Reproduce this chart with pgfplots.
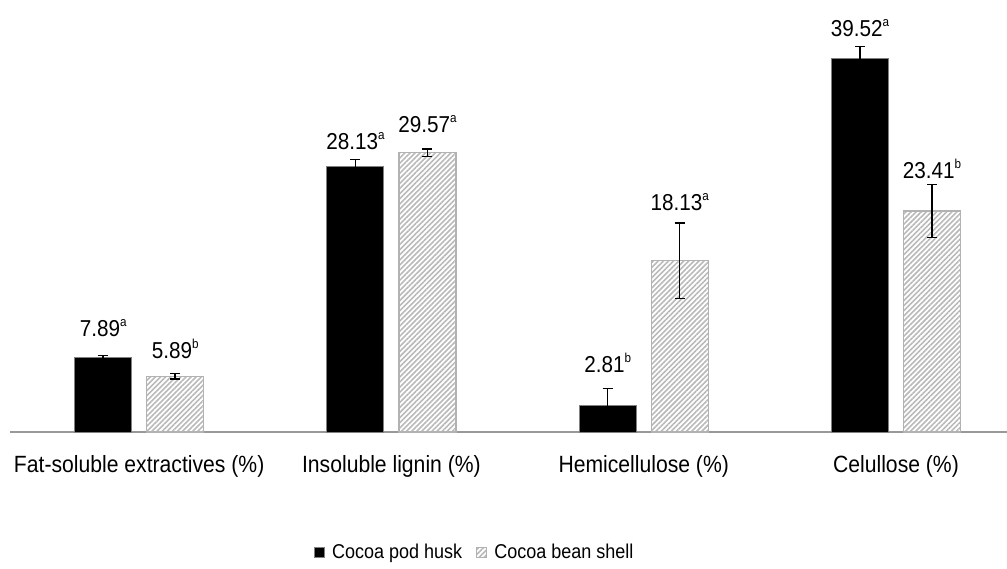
\documentclass[border=0pt]{standalone}
\usepackage{fontspec}
\setmainfont{Liberation Sans}[FakeStretch=0.9]
\usepackage{pgfplots}
\pgfplotsset{compat=1.18}
\usetikzlibrary{patterns.meta}
\newcommand{\supl}[1]{\raisebox{0.42em}{\fontsize{13}{13}\selectfont #1}}
\begin{document}
\begin{tikzpicture}
\begin{axis}[
  at={(0,0)}, anchor=south west,
  scale only axis, width=997pt, height=432pt,
  xmin=-0.512, xmax=3.44, ymin=0, ymax=45.76,
  hide y axis, axis x line*=bottom,
  x axis line style={gray!80, line width=1.5pt},
  xtick={0,1,2,3},
  xticklabels={Fat-soluble extractives (\%), Insoluble lignin (\%), Hemicellulose (\%), Celullose (\%)},
  major tick length=0pt,
  xticklabel style={font=\fontsize{23.5}{28}\selectfont, inner sep=0pt, anchor=north, yshift=-23pt},
  clip=false,
  legend columns=2,
  legend style={draw=none, at={(0.466,-0.278)}, anchor=center,
    font=\fontsize{20}{24}\selectfont, /tikz/every even column/.append style={column sep=12pt}},
  legend image code/.code={\path[draw=none,fill=none] (0pt,-5pt) rectangle (16pt,5pt); \draw[#1, line width=0.6pt] (0pt,-5pt) rectangle (10pt,5pt);},
]
\addplot[ybar, bar width=0.226, bar shift=0, fill=black, draw=gray, line width=1pt,
  error bars/.cd, y dir=both, y explicit,
  error bar style={black, line width=1.5pt},
  error mark options={black, line width=1.5pt, mark size=5pt, rotate=90}]
  coordinates {(-0.1427,7.89) +- (0,0.2) (0.8573,28.13) +- (0,0.75) (1.8573,2.81) +- (0,1.8) (2.8573,39.52) +- (0,1.3)};
\addplot[ybar, bar width=0.226, bar shift=0, draw=gray!60, line width=1.2pt,
  pattern={Lines[angle=45, distance=3.6pt, line width=1.6pt]}, pattern color=gray!55,
  error bars/.cd, y dir=both, y explicit,
  error bar style={black, line width=1.5pt},
  error mark options={black, line width=1.5pt, mark size=5pt, rotate=90}]
  coordinates {(0.1427,5.89) +- (0,0.3) (1.1427,29.57) +- (0,0.4) (2.1427,18.13) +- (0,4.0) (3.1427,23.41) +- (0,2.8)};
\legend{Cocoa pod husk, Cocoa bean shell}
\begin{scope}[every node/.style={font=\fontsize{23}{26}\selectfont, inner sep=0pt}]
\node at (axis cs:-0.1427,11.02) {7.89\supl{a}};
\node at (axis cs:0.1427,8.79) {5.89\supl{b}};
\node at (axis cs:0.8573,30.83) {28.13\supl{a}};
\node at (axis cs:1.1427,32.63) {29.57\supl{a}};
\node at (axis cs:1.8573,7.31) {2.81\supl{b}};
\node at (axis cs:2.1427,24.36) {18.13\supl{a}};
\node at (axis cs:2.8573,42.80) {39.52\supl{a}};
\node at (axis cs:3.1427,27.86) {23.41\supl{b}};
\end{scope}
\end{axis}
\pgfresetboundingbox
\path (-10pt,-136pt) rectangle (997pt,432pt);
\end{tikzpicture}
\end{document}
